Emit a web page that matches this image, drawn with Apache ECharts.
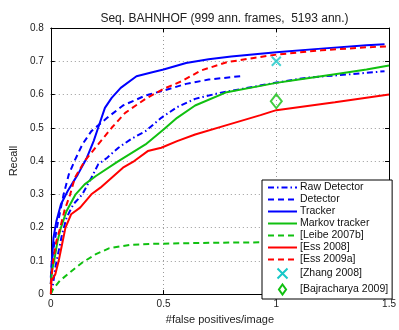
<!DOCTYPE html>
<html>
<head>
<meta charset="utf-8">
<script src="https://cdn.jsdelivr.net/npm/echarts@6/dist/echarts.min.js"></script>
<style>
  html, body { margin: 0; padding: 0; background: #fff; }
  #chart { width: 399px; height: 330px; }
</style>
</head>
<body>
<div id="chart"></div>
<script>
const xTicks = [0, 0.5, 1, 1.5]
const yTicks = [0, 0.1, 0.2, 0.3, 0.4, 0.5, 0.6, 0.7, 0.8]

// [false positives per image, recall]
const rawDetector = [[0, 0], [0.01, 0.03], [0.02, 0.08], [0.035, 0.13], [0.05, 0.18], [0.07, 0.23], [0.1, 0.27], [0.14, 0.3], [0.18, 0.35], [0.21, 0.39], [0.25, 0.41], [0.3, 0.44], [0.36, 0.468], [0.42, 0.49], [0.49, 0.53], [0.56, 0.562], [0.64, 0.587], [0.75, 0.605], [0.84, 0.616], [1.0, 0.636], [1.14, 0.651], [1.33, 0.661], [1.48, 0.67]]
const detector = [[0, 0.05], [0.005, 0.1], [0.015, 0.15], [0.027, 0.2], [0.045, 0.26], [0.057, 0.3], [0.08, 0.36], [0.105, 0.4], [0.14, 0.45], [0.18, 0.49], [0.25, 0.53], [0.32, 0.567], [0.42, 0.597], [0.5, 0.612], [0.6, 0.632], [0.7, 0.645], [0.84, 0.655]]
const tracker = [[0, 0.03], [0.005, 0.1], [0.012, 0.17], [0.025, 0.22], [0.045, 0.27], [0.075, 0.31], [0.12, 0.36], [0.16, 0.41], [0.19, 0.46], [0.21, 0.5], [0.24, 0.56], [0.27, 0.59], [0.31, 0.62], [0.38, 0.655], [0.45, 0.667], [0.5, 0.675], [0.6, 0.695], [0.7, 0.706], [0.8, 0.714], [1.0, 0.727], [1.2, 0.738], [1.4, 0.748], [1.48, 0.751]]
const markovTracker = [[0, 0.03], [0.005, 0.07], [0.015, 0.1], [0.03, 0.16], [0.045, 0.2], [0.07, 0.25], [0.11, 0.3], [0.15, 0.33], [0.2, 0.355], [0.3, 0.4], [0.42, 0.45], [0.5, 0.495], [0.56, 0.53], [0.64, 0.567], [0.78, 0.607], [0.93, 0.626], [1.0, 0.635], [1.1, 0.645], [1.26, 0.661], [1.4, 0.675], [1.5, 0.687]]
const leibe2007b = [[0, 0], [0.01, 0.015], [0.04, 0.04], [0.086, 0.066], [0.14, 0.095], [0.2, 0.12], [0.26, 0.138], [0.35, 0.148], [0.45, 0.151], [0.6, 0.153], [0.8, 0.155], [1.0, 0.156], [1.5, 0.158]]
const ess2008 = [[0, 0], [0.003, 0.04], [0.02, 0.06], [0.035, 0.1], [0.05, 0.15], [0.065, 0.2], [0.09, 0.24], [0.13, 0.26], [0.18, 0.3], [0.22, 0.32], [0.27, 0.35], [0.32, 0.38], [0.37, 0.4], [0.43, 0.43], [0.49, 0.44], [0.56, 0.46], [0.64, 0.48], [0.78, 0.508], [0.93, 0.538], [1.0, 0.553], [1.26, 0.577], [1.5, 0.6]]
const ess2009a = [[0, 0.03], [0.01, 0.1], [0.025, 0.16], [0.042, 0.2], [0.06, 0.25], [0.086, 0.3], [0.107, 0.35], [0.15, 0.4], [0.21, 0.45], [0.27, 0.5], [0.33, 0.545], [0.42, 0.587], [0.5, 0.617], [0.58, 0.64], [0.665, 0.672], [0.78, 0.697], [0.9, 0.71], [1.0, 0.72], [1.2, 0.733], [1.4, 0.742], [1.5, 0.745]]
const zhang2008 = [[1.0, 0.70]]
const bajracharya2009 = [[1.0, 0.58]]

const BLUE = '#0000ff', RED = '#ff0000', GREEN = '#10c010', CYAN = '#18c8c8'
const font = 'Liberation Sans, Arial, sans-serif'
const X_PATH = 'path://M0,0L10,10M10,0L0,10'
const DIAMOND_PATH = 'path://M5,0L10,7L5,14L0,7Z'

const chart = echarts.init(document.getElementById('chart'))

function lineSeries(name, data, color, type) {
  return {
    name, type: 'line', data, symbol: 'none', smooth: false,
    lineStyle: { color, width: 2, type },
    itemStyle: { color }
  }
}

const axisCommon = {
  type: 'value',
  axisLine: { show: true, onZero: false, lineStyle: { color: '#000', width: 1 } },
  axisTick: { show: true, inside: true, length: 4, lineStyle: { color: '#000' } }
}

const lineNames = ['Raw Detector', 'Detector', 'Tracker', 'Markov tracker', '[Leibe 2007b]', '[Ess 2008]', '[Ess 2009a]']

chart.setOption({
  animation: false,
  title: {
    text: 'Seq. BAHNHOF (999 ann. frames,  5193 ann.)',
    left: 219.5, top: 8, textAlign: 'center',
    textStyle: { fontFamily: font, fontSize: 12, fontWeight: 'normal', color: '#222' }
  },
  grid: { left: 47, right: 7, top: 28, bottom: 31 },
  legend: {
    orient: 'vertical', left: 262, top: 180,
    backgroundColor: '#fff', borderColor: '#000', borderWidth: 1,
    padding: [2, 4, 2, 5], itemWidth: 29, itemHeight: 10, itemGap: 1,
    itemStyle: { opacity: 0 },
    textStyle: { fontFamily: font, fontSize: 10.5, color: '#111', padding: [0, 0, 0, -2] },
    data: [
      ...lineNames.map(name => ({ name })),
      { name: '[Zhang 2008]', icon: X_PATH, itemStyle: { opacity: 1, color: 'none', borderColor: CYAN, borderWidth: 2 } },
      { name: '[Bajracharya 2009]', icon: DIAMOND_PATH, itemStyle: { opacity: 1, color: 'none', borderColor: GREEN, borderWidth: 2 } }
    ]
  },
  xAxis: [
    {
      ...axisCommon, position: 'bottom', min: 0, max: 1.5, interval: 0.5,
      name: '#false positives/image', nameLocation: 'middle', nameGap: 17,
      nameTextStyle: { fontFamily: font, fontSize: 11, color: '#222' },
      axisLabel: { fontFamily: font, fontSize: 10, color: '#222', margin: 5, formatter: v => String(v) },
      splitLine: { show: true, lineStyle: { color: '#999', type: [1, 3] } }
    },
    {
      ...axisCommon, position: 'top', min: 0, max: 1.5, interval: 0.5,
      axisLabel: { show: false }, splitLine: { show: false }
    }
  ],
  yAxis: [
    {
      ...axisCommon, position: 'left', min: 0, max: 0.8, interval: 0.1,
      name: 'Recall', nameLocation: 'middle', nameGap: 25, nameRotate: 90,
      nameTextStyle: { fontFamily: font, fontSize: 11, color: '#222' },
      axisLabel: { fontFamily: font, fontSize: 10, color: '#222', margin: 7, formatter: v => String(+v.toFixed(1)) },
      splitLine: { show: true, lineStyle: { color: '#999', type: [1, 3] } }
    },
    {
      ...axisCommon, position: 'right', min: 0, max: 0.8, interval: 0.1,
      axisLabel: { show: false }, splitLine: { show: false }
    }
  ],
  series: [
    lineSeries('Raw Detector', rawDetector, BLUE, [6, 3, 1.5, 3]),
    lineSeries('Detector', detector, BLUE, [6, 4]),
    lineSeries('Tracker', tracker, BLUE, 'solid'),
    lineSeries('Markov tracker', markovTracker, GREEN, 'solid'),
    lineSeries('[Leibe 2007b]', leibe2007b, GREEN, [6, 4]),
    lineSeries('[Ess 2008]', ess2008, RED, 'solid'),
    lineSeries('[Ess 2009a]', ess2009a, RED, [6, 4]),
    {
      name: '[Zhang 2008]', type: 'scatter', data: zhang2008,
      symbol: X_PATH, symbolSize: 9,
      itemStyle: { color: 'none', borderColor: CYAN, borderWidth: 2 }, z: 5
    },
    {
      name: '[Bajracharya 2009]', type: 'scatter', data: bajracharya2009,
      symbol: 'diamond', symbolSize: [11, 14],
      itemStyle: { color: 'none', borderColor: GREEN, borderWidth: 2 }, z: 5
    }
  ]
})
</script>
</body>
</html>
